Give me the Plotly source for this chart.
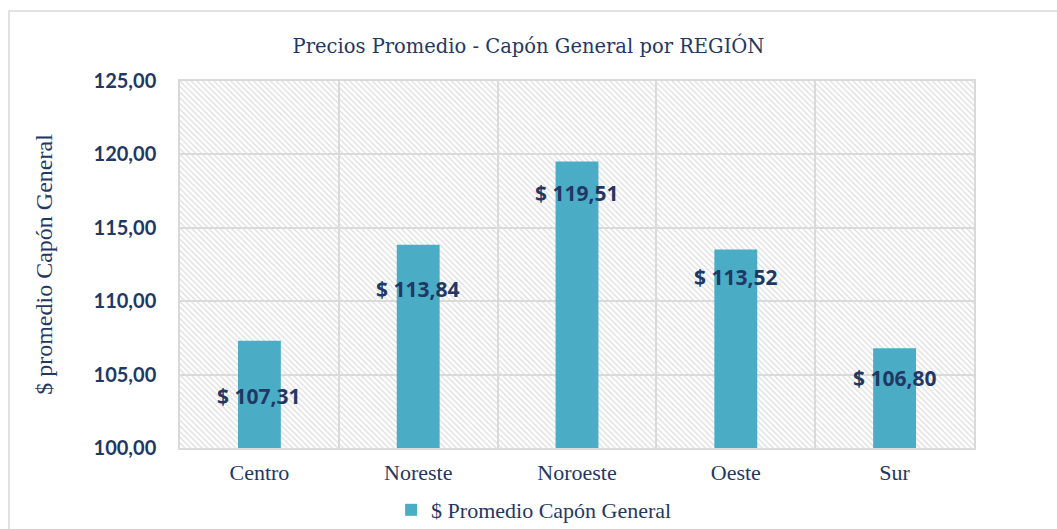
import plotly.graph_objects as go

regions = ["Centro", "Noreste", "Noroeste", "Oeste", "Sur"]
prices = [107.31, 113.84, 119.51, 113.52, 106.80]
series_name = "$ Promedio Capón General"
y_ticks = [100, 105, 110, 115, 120, 125]

# label placement (pixel offsets below bar top) - styling only
label_shift = [-55, -44, -31, -27, -30]

navy = "#1F3864"
bar_color = "#4BACC6"
grid = "#d9d9d9"

fig = go.Figure()

# hatched plot-area background
fig.add_trace(go.Bar(
    x=regions, y=[y_ticks[-1] - y_ticks[0]] * len(regions), base=y_ticks[0],
    width=1, showlegend=False, hoverinfo="skip",
    marker=dict(color="rgba(0,0,0,0)", line=dict(width=0),
                pattern=dict(shape="\\", fgcolor="#dcdcdc", bgcolor="rgba(255,255,255,0)",
                             size=4, solidity=0.3, fillmode="replace")),
))

fig.add_trace(go.Bar(
    x=regions, y=[p - y_ticks[0] for p in prices], base=y_ticks[0],
    width=0.27, name=series_name, marker=dict(color=bar_color, line=dict(width=0)),
    hoverinfo="x+y",
))

for r, p, s in zip(regions, prices, label_shift):
    fig.add_annotation(
        x=r, y=p, yshift=s, showarrow=False,
        text="$ " + f"{p:.2f}".replace(".", ","),
        font=dict(family="Open Sans", size=21, color=navy, weight="bold"),
    )

fig.add_shape(type="rect", xref="paper", yref="paper",
              x0=-0.2154, x1=1.11, y0=-0.24, y1=1.1907,
              line=dict(color="#d9d9d9", width=1.5), layer="below")

fig.update_layout(
    width=1057, height=529,
    margin=dict(l=180, r=83, t=81, b=81, autoexpand=False),
    paper_bgcolor="white", plot_bgcolor="white",
    barmode="overlay", separators=", ",
    title=dict(text="Precios Promedio - Capón General por REGIÓN",
               x=0.5, xref="container", xanchor="center", y=0.913, yanchor="middle",
               font=dict(family="DejaVu Serif", size=19.5, color=navy)),
    showlegend=True,
    legend=dict(orientation="h", x=0.446, xanchor="center", y=-0.169, yanchor="middle",
                font=dict(family="Liberation Serif", size=22, color=navy),
                itemwidth=30),
)

fig.update_xaxes(
    type="category", tickson="boundaries", showgrid=True, gridcolor=grid, gridwidth=1.5,
    showline=True, linecolor=grid, linewidth=2, mirror=True, ticks="",
    ticklabelstandoff=4,
    tickfont=dict(family="Liberation Serif", size=22, color=navy),
)
fig.update_yaxes(
    range=[y_ticks[0], y_ticks[-1]], tickvals=y_ticks, tickformat=".2f",
    showgrid=True, gridcolor=grid, gridwidth=1.5,
    showline=True, linecolor=grid, linewidth=1.5, mirror=True, ticks="",
    ticklabelstandoff=18,
    tickfont=dict(family="Lato", size=20, color=navy, weight="bold"),
    title=dict(text="$ promedio Capón General", standoff=34,
               font=dict(family="Liberation Serif", size=24, color=navy)),
)

fig.write_html("out.html", config={"displayModeBar": False},
               post_script="document.body.style.margin='0';")
